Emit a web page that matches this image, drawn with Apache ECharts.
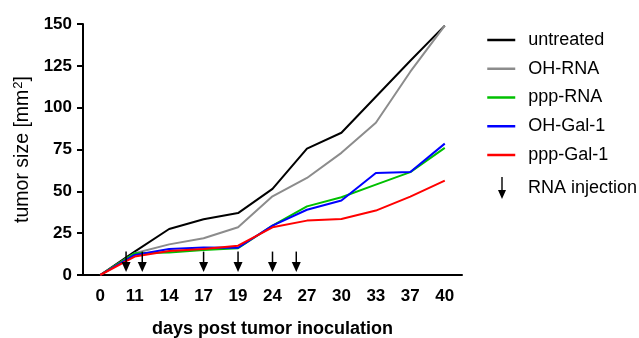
<!DOCTYPE html>
<html>
<head>
<meta charset="utf-8">
<script src="https://cdn.jsdelivr.net/npm/echarts@6/dist/echarts.min.js"></script>
<style>
html, body { margin: 0; padding: 0; background: #fff; }
#main { width: 639px; height: 338px; }
</style>
</head>
<body>
<div id="main"></div>
<script>
// days after tumor inoculation (evenly spaced categories)
var days = ['0', '11', '14', '17', '19', '24', '27', '30', '33', '37', '40'];

// mean tumor size (mm2)
var untreated = [0, 14, 27.5, 33.3, 37, 51.5, 75.5, 85, 106.5, 128, 149];
var ohRna     = [0, 13, 18.3, 22, 28.5, 47, 58, 73, 91, 121.5, 149];
var pppRna    = [0, 13, 13.5, 15, 16, 29.5, 41, 46.5, 54, 61.5, 76];
var ohGal1    = [0, 12, 15.5, 16.5, 16.3, 29.5, 39, 44.5, 61, 61.5, 78.5];
var pppGal1   = [0, 11, 14.3, 15.5, 17.5, 28.5, 32.5, 33.5, 38.5, 46.8, 56.4];

// RNA injections, position along the category axis (index units)
var injections = [0.75, 1.22, 3, 4, 5, 5.69];

var FONT = 'Liberation Sans, Arial, sans-serif';

var myChart = echarts.init(document.getElementById('main'));

function lineSeries(name, data, color) {
    return {
        name: name,
        type: 'line',
        data: data,
        symbol: 'none',
        silent: true,
        lineStyle: { color: color, width: 2 },
        itemStyle: { color: color },
        z: 3
    };
}

var option = {
    animation: false,
    textStyle: { fontFamily: FONT },
    grid: { left: 83, right: 177, top: 24, bottom: 63, outerBoundsMode: 'none', containLabel: false },
    legend: [{
        data: ['untreated', 'OH-RNA', 'ppp-RNA', 'OH-Gal-1', 'ppp-Gal-1'],
        orient: 'vertical',
        left: 486,
        top: 31,
        padding: 0,
        itemWidth: 28,
        itemHeight: 16,
        itemGap: 10.75,
        selectedMode: false,
        itemStyle: { opacity: 0 },
        lineStyle: { width: 2.5 },
        textStyle: { fontSize: 18, lineHeight: 16, color: '#000', fontFamily: FONT, padding: [0, 0, 0, 8] }
    }, {
        data: [{ name: 'RNA injection', icon: 'path://M3.3,0 L4.7,0 L4.7,13 L8,13 L4,22 L0,13 L3.3,13 Z' }],
        orient: 'vertical',
        left: 498,
        top: 177,
        padding: 0,
        itemWidth: 8,
        itemHeight: 22,
        selectedMode: false,
        textStyle: { fontSize: 18, color: '#000', fontFamily: FONT, padding: [0, 0, 0, 17] }
    }],
    xAxis: [{
        type: 'category',
        data: days,
        boundaryGap: true,
        name: 'days post tumor inoculation',
        nameLocation: 'middle',
        nameGap: 45,
        nameTextStyle: { fontSize: 18, fontWeight: 'bold', color: '#000', fontFamily: FONT },
        axisLine: { onZero: false, lineStyle: { color: '#000', width: 2 } },
        axisTick: { alignWithLabel: true, length: 7, lineStyle: { color: '#000', width: 2 } },
        axisLabel: { fontSize: 17, fontWeight: 'bold', color: '#000', margin: 13, fontFamily: FONT }
    }, {
        type: 'value',
        min: -0.5,
        max: 10.5,
        show: false
    }],
    yAxis: {
        type: 'value',
        min: 0,
        max: 150,
        interval: 25,
        name: 'tumor size [mm{sup|2}]',
        nameLocation: 'middle',
        nameGap: 43,
        nameRotate: 90,
        nameTextStyle: {
            fontSize: 19.5, color: '#000', fontFamily: FONT,
            rich: { sup: { fontSize: 13, verticalAlign: 'top', padding: [0, 0, 8, 1], color: '#000', fontFamily: FONT } }
        },
        splitLine: { show: false },
        axisLine: { show: true, onZero: false, lineStyle: { color: '#000', width: 2 } },
        axisTick: { show: true, length: 6, lineStyle: { color: '#000', width: 2 } },
        axisLabel: { fontSize: 17, fontWeight: 'bold', color: '#000', margin: 11, fontFamily: FONT }
    },
    series: [
        lineSeries('untreated', untreated, '#000000'),
        lineSeries('OH-RNA', ohRna, '#8c8c8c'),
        lineSeries('ppp-RNA', pppRna, '#00c000'),
        lineSeries('OH-Gal-1', ohGal1, '#0000ff'),
        lineSeries('ppp-Gal-1', pppGal1, '#ff0000'),
        {
            name: 'RNA injection',
            type: 'custom',
            xAxisIndex: 1,
            silent: true,
            itemStyle: { color: '#000' },
            data: injections.map(function (x) { return [x, 14, 1.8]; }),
            renderItem: function (params, api) {
                var x = api.value(0);
                var top = api.coord([x, api.value(1)]);
                var tip = api.coord([x, api.value(2)]);
                return {
                    type: 'group',
                    children: [{
                        type: 'line',
                        shape: { x1: top[0], y1: top[1], x2: tip[0], y2: tip[1] - 8 },
                        style: { stroke: '#000', lineWidth: 1.5 }
                    }, {
                        type: 'polygon',
                        shape: { points: [[tip[0] - 4.5, tip[1] - 10], [tip[0] + 4.5, tip[1] - 10], [tip[0], tip[1]]] },
                        style: { fill: '#000' }
                    }]
                };
            },
            z: 4
        }
    ]
};

myChart.setOption(option);
</script>
</body>
</html>
